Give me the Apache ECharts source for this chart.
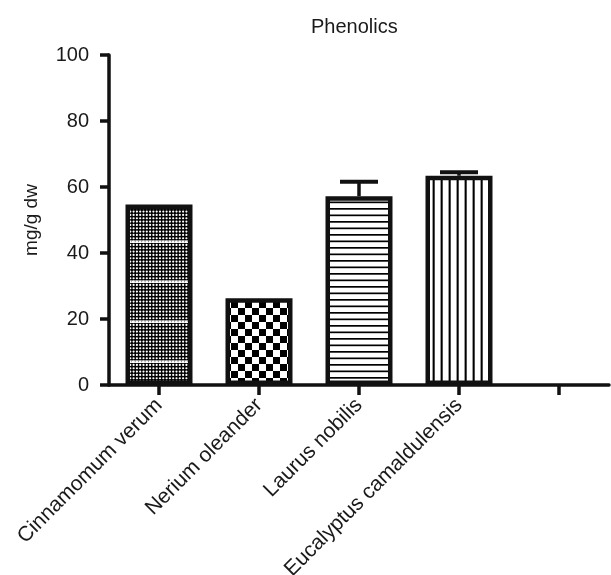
<!DOCTYPE html>
<html>
<head>
<meta charset="utf-8">
<script src="https://cdn.jsdelivr.net/npm/echarts@6/dist/echarts.min.js"></script>
<style>
html,body{margin:0;padding:0;background:#fff;}
#chart{width:611px;height:575px;}
</style>
</head>
<body>
<div id="chart"></div>
<script>
// ---- data ----
const title = 'Phenolics';
const yAxisName = 'mg/g dw';
const categories = ['Cinnamomum verum', 'Nerium oleander', 'Laurus nobilis', 'Eucalyptus camaldulensis', ''];
const means = [54.7, 26.3, 57.2, 63.4, null];
const upperErrors = [null, null, 61.6, 64.5, null]; // top of error bar (mean + SEM)
const yTicks = [0, 20, 40, 60, 80, 100];
const xTickPositions = [0, 1, 2, 3, 4]; // one tick per category slot

// ---- fill patterns ----
function makeCanvas(w, h) {
  const c = document.createElement('canvas');
  c.width = w; c.height = h;
  return c;
}
function stipplePattern() {
  const c = makeCanvas(33, 40);
  const g = c.getContext('2d');
  g.fillStyle = '#000'; g.fillRect(0, 0, 33, 40);
  g.fillStyle = '#fff';
  for (let r = 0; r < 12; r++) {
    for (let k = 0; k < 10; k++) {
      g.beginPath();
      g.arc(k * 3.3 + 1.6, r * 3.333 + 1.6, 1.1, 0, Math.PI * 2);
      g.fill();
    }
  }
  g.fillStyle = '#fff';
  g.fillRect(0, 0.5, 33, 2.5);
  g.fillStyle = '#222';
  for (let k = 0; k < 10; k++) g.fillRect(k * 3.3 + 2.8, 1.3, 0.7, 0.9);
  return c;
}
function checkerPattern() {
  const s = 7;
  const c = makeCanvas(2 * s, 2 * s);
  const g = c.getContext('2d');
  g.fillStyle = '#fff'; g.fillRect(0, 0, 2 * s, 2 * s);
  g.fillStyle = '#000';
  g.fillRect(0, 0, s, s);
  g.fillRect(s, s, s, s);
  return c;
}
function hLinePattern() {
  const c = makeCanvas(4, 13);
  const g = c.getContext('2d');
  g.fillStyle = '#fff'; g.fillRect(0, 0, 4, 13);
  g.fillStyle = '#000';
  g.fillRect(0, 0, 4, 1.7);
  g.fillRect(0, 6.5, 4, 1.7);
  return c;
}
function vLinePattern() {
  const c = makeCanvas(8, 4);
  const g = c.getContext('2d');
  g.fillStyle = '#fff'; g.fillRect(0, 0, 8, 4);
  g.fillStyle = '#000';
  g.fillRect(0.6, 0, 2.1, 4);
  return c;
}
const patterns = [stipplePattern(), checkerPattern(), hLinePattern(), vLinePattern()];

const fontFamily = "'Liberation Sans', Arial, Helvetica, sans-serif";

const barData = means.map((v, i) => ({
  value: v == null ? '-' : v,
  itemStyle: patterns[i] ? { color: { image: patterns[i], repeat: 'repeat' } } : {}
}));
const errData = [];
upperErrors.forEach((e, i) => { if (e != null) errData.push([i, means[i], e]); });

const chart = echarts.init(document.getElementById('chart'), null, { renderer: 'canvas' });
chart.setOption({
  animation: false,
  backgroundColor: '#fff',
  title: {
    text: title,
    left: 306,
    top: 12,
    textStyle: { fontFamily, fontSize: 20, fontWeight: 'normal', color: '#1a1a1a' }
  },
  grid: { left: 109, right: 2, top: 55, bottom: 190, containLabel: false, outerBoundsMode: 'none' },
  xAxis: [
    {
      type: 'category',
      data: categories,
      position: 'bottom',
      axisLine: { onZero: false, lineStyle: { color: '#111', width: 3.5 } },
      axisTick: { show: false },
      axisLabel: { rotate: 45, margin: 17, fontFamily, fontSize: 21, color: '#1a1a1a', interval: 0 },
      splitLine: { show: false }
    },
    {
      type: 'value',
      position: 'bottom',
      offset: 0,
      min: -0.5,
      max: xTickPositions.length - 0.5,
      axisLine: { show: false, onZero: false },
      axisTick: { show: true, customValues: xTickPositions, length: 10, lineStyle: { color: '#111', width: 3.5 } },
      axisLabel: { show: false },
      splitLine: { show: false }
    }
  ],
  yAxis: {
    type: 'value',
    min: 0, max: 100, interval: 20,
    position: 'left',
    name: yAxisName,
    nameLocation: 'middle',
    nameGap: 68,
    nameTextStyle: { fontFamily, fontSize: 19, color: '#1a1a1a' },
    axisLine: { show: true, onZero: false, lineStyle: { color: '#111', width: 3.5 } },
    axisTick: { show: true, length: 9, lineStyle: { color: '#111', width: 3.5 } },
    axisLabel: {
      margin: 20, fontFamily, fontSize: 20, color: '#1a1a1a',
      formatter: v => (yTicks.indexOf(v) >= 0 ? String(v) : '')
    },
    splitLine: { show: false }
  },
  series: [
    {
      type: 'bar',
      data: barData,
      barWidth: 67,
      itemStyle: { borderColor: '#111', borderWidth: 4.5 }
    },
    {
      type: 'custom',
      data: errData,
      encode: { x: 0, y: [1, 2] },
      z: 3,
      renderItem: function (params, api) {
        const x = api.value(0);
        const top = api.coord([x, api.value(2)]);
        const base = api.coord([x, api.value(1)]);
        const half = 19;
        return {
          type: 'group',
          children: [
            { type: 'line', shape: { x1: top[0], y1: base[1], x2: top[0], y2: top[1] },
              style: { stroke: '#111', lineWidth: 3.5 } },
            { type: 'line', shape: { x1: top[0] - half, y1: top[1], x2: top[0] + half, y2: top[1] },
              style: { stroke: '#111', lineWidth: 4 } }
          ]
        };
      }
    }
  ]
});
</script>
</body>
</html>
